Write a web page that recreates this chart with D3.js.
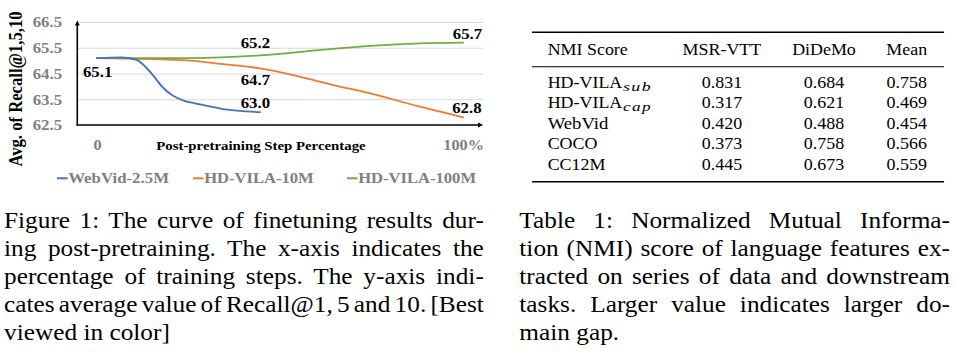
<!DOCTYPE html>
<html><head><meta charset="utf-8">
<script src="https://cdn.jsdelivr.net/npm/d3@7"></script>
<style>body{margin:0;background:#fff}svg{display:block}</style>
</head><body>
<svg id="c" width="954" height="355"></svg>
<script>
// ---------- data ----------
const seriesNames = ["WebVid-2.5M", "HD-VILA-10M", "HD-VILA-100M"];
const webvidX = [0, 6.8, 10.8, 14.9, 17.7, 20.4, 24.0, 26.8, 34.4, 44.5];
const webvidY = [65.1, 65.13, 65.03, 64.5, 64.0, 63.67, 63.43, 63.34, 63.12, 63.0];
const hd10X = [0, 10.7, 25.4, 34.4, 44.5, 52.7, 63.7, 74.6, 88.3, 100];
const hd10Y = [65.1, 65.07, 65.0, 64.86, 64.7, 64.47, 64.08, 63.73, 63.21, 62.8];
const hd100X = [0, 12, 25.4, 44.5, 63.7, 74.6, 88.3, 100];
const hd100Y = [65.1, 65.1, 65.1, 65.2, 65.45, 65.57, 65.67, 65.7];
const yTicks = [62.5, 63.5, 64.5, 65.5, 66.5];
const xTicks = [0, 100];
const xTickLabels = ["0", "100%"];
const labelX = [0, 44.5, 44.5, 44.5, 100, 100];
const labelValues = [65.1, 65.2, 64.7, 63.0, 65.7, 62.8];

const tableHeader = ["NMI Score", "MSR-VTT", "DiDeMo", "Mean"];
const rowNames = ["HD-VILA", "HD-VILA", "WebVid", "COCO", "CC12M"];
const rowSubs = ["sub", "cap", "", "", ""];
const msrvtt = [0.831, 0.317, 0.420, 0.373, 0.445];
const didemo = [0.684, 0.621, 0.488, 0.758, 0.673];
const meanVals = [0.758, 0.469, 0.454, 0.566, 0.559];

const figCaption = [
  "Figure 1: The curve of finetuning results dur-",
  "ing post-pretraining. The x-axis indicates the",
  "percentage of training steps. The y-axis indi-",
  "cates average value of Recall@1, 5 and 10. [Best",
  "viewed in color]"];
const tabCaption = [
  "Table 1: Normalized Mutual Informa-",
  "tion (NMI) score of language features ex-",
  "tracted on series of data and downstream",
  "tasks. Larger value indicates larger do-",
  "main gap."];

// ---------- style ----------
const colors = ["#4472C4", "#ED7D31", "#70AD47"];
const K = 1.12;          // horizontal stretch of the reference image
const serif = "'Liberation Serif','Times New Roman',Times,serif";
const gray = "#808080";
const labelOffsets = [[0.6, 19], [-4, -7.5], [-4, 16.7], [-4, -4], [4, -3.6], [3.5, -4.3]];
const legendX = [50.9, 172.3, 309.8];

// Times advance widths (per 1000 em), used to pin text lengths
const TR = {" ":250,"!":333,"(":333,")":333,",":250,"-":333,".":250,":":278,"@":921,"[":333,"]":333,"%":833,
 A:722,B:667,C:667,D:722,E:611,F:556,G:722,H:722,I:333,J:389,K:722,L:611,M:889,N:722,O:722,P:556,Q:722,R:667,S:556,T:611,U:722,V:722,W:944,X:722,Y:722,Z:611,
 a:444,b:500,c:444,d:500,e:444,f:333,g:500,h:500,i:278,j:278,k:500,l:278,m:778,n:500,o:500,p:500,q:500,r:333,s:389,t:278,u:500,v:500,w:722,x:500,y:500,z:444};
const TB = {" ":250,"%":1000,"-":333,".":250,",":250,"@":930,
 A:722,B:667,C:722,D:722,E:667,F:611,G:778,H:778,I:389,L:667,M:944,P:611,R:722,S:556,T:667,V:722,W:1000,
 a:500,b:556,c:444,d:556,e:444,f:333,g:500,h:556,i:278,l:278,m:833,n:556,o:500,p:556,r:444,s:389,t:333,u:556,v:500};
function tw(str, size, bold) {
  const t = bold ? TB : TR; let w = 0;
  for (const ch of str) w += (t[ch] !== undefined ? t[ch] : 500);
  return w * size / 1000;
}
function fit(sel, size, bold) {
  sel.attr("font-size", size).attr("font-weight", bold ? "bold" : null)
    .style("font-family", serif)
    .each(function () {
      d3.select(this).attr("textLength", tw(this.textContent, size, bold)).attr("lengthAdjust", "spacingAndGlyphs");
    });
}

const svg = d3.select("#c");
svg.append("rect").attr("width", 954).attr("height", 355).attr("fill", "#fff");
const root = svg.append("g").attr("transform", `scale(${K},1)`).style("font-family", serif);

// ---------- chart ----------
const axX = 69, plotRight = 431.3;
const x = d3.scaleLinear().domain([0, 100]).range([86.6, 413.4]);
const y = d3.scaleLinear().domain([62.5, 66.5]).range([125, 22]);
const chart = root.append("g");

// gridlines
chart.append("g")
  .attr("transform", `translate(${axX},0)`)
  .call(d3.axisRight(y).tickValues(yTicks.slice(1)).tickSize(plotRight - axX).tickFormat(""))
  .call(g => g.select(".domain").remove())
  .call(g => g.selectAll("line").attr("stroke", "#d9d9d9").attr("stroke-width", 1));

// y tick labels
chart.append("g")
  .attr("transform", `translate(${axX},0)`)
  .call(d3.axisLeft(y).tickValues(yTicks).tickSize(0).tickPadding(13.6).tickFormat(d3.format(".1f")))
  .call(g => g.select(".domain").remove())
  .call(g => g.attr("font-family", null).attr("font-size", null))
  .call(g => fit(g.selectAll("text").attr("fill", gray), 15, true));

// x tick labels
chart.append("g")
  .attr("transform", `translate(0,125)`)
  .call(d3.axisBottom(x).tickValues(xTicks).tickSize(0).tickPadding(14.7)
      .tickFormat((d, i) => xTickLabels[i]))
  .call(g => g.select(".domain").remove())
  .call(g => g.attr("font-family", null).attr("font-size", null))
  .call(g => fit(g.selectAll("text").attr("fill", gray), 14.5, true));

// axes with arrows
chart.append("line").attr("x1", axX).attr("x2", axX).attr("y1", 125.5).attr("y2", 24)
  .attr("stroke", "#000").attr("stroke-width", 1.4);
chart.append("line").attr("x1", axX - 0.7).attr("x2", plotRight - 3).attr("y1", 125).attr("y2", 125)
  .attr("stroke", "#000").attr("stroke-width", 1.6);
chart.append("path").attr("d", `M${axX - 2.2},25.5 L${axX},20.5 L${axX + 2.2},25.5 Z`).attr("fill", "#000");
chart.append("path").attr("d", `M${plotRight - 4.5},122.5 L${plotRight},125 L${plotRight - 4.5},127.5 Z`).attr("fill", "#000");

// lines
const seriesX = [webvidX, hd10X, hd100X];
const seriesY = [webvidY, hd10Y, hd100Y];
const line = d3.line().x(d => x(d[0])).y(d => y(d[1])).curve(d3.curveMonotoneX);
[1, 2, 0].forEach(s => {
  chart.append("path")
    .datum(seriesX[s].map((v, i) => [v, seriesY[s][i]]))
    .attr("d", line).attr("fill", "none").attr("stroke", colors[s])
    .attr("stroke-width", 1.8).attr("stroke-linecap", "round");
});

// data labels
chart.selectAll("text.dl").data(labelValues).join("text").attr("class", "dl")
  .attr("x", (d, i) => x(labelX[i]) + labelOffsets[i][0])
  .attr("y", (d, i) => y(d) + labelOffsets[i][1])
  .attr("text-anchor", "middle").attr("fill", "#000")
  .text(d => d.toFixed(1))
  .call(s => fit(s, 15, true));

// axis titles
chart.append("text").attr("transform", "translate(20,89) rotate(-90)")
  .attr("text-anchor", "middle").text("Avg. of Recall@1,5,10")
  .call(s => fit(s, 16.5, true));
chart.append("text").attr("x", 233).attr("y", 150).attr("text-anchor", "middle")
  .text("Post-pretraining Step Percentage").call(s => fit(s, 13.2, true));

// legend
const leg = chart.selectAll("g.leg").data(seriesNames).join("g").attr("class", "leg")
  .attr("transform", (d, i) => `translate(${legendX[i]},0)`);
leg.append("line").attr("x1", 0).attr("x2", 9.5).attr("y1", 178.3).attr("y2", 178.3)
  .attr("stroke", (d, i) => colors[i]).attr("stroke-width", 2);
leg.append("text").attr("x", 10).attr("y", 183).attr("fill", gray).text(d => d)
  .call(s => fit(s, 14.8, true));

// ---------- table ----------
const tbl = root.append("g").attr("fill", "#000");
const tL = 475, tR = 842.9;
tbl.append("line").attr("x1", tL).attr("x2", tR).attr("y1", 32.3).attr("y2", 32.3).attr("stroke", "#000").attr("stroke-width", 1.6);
tbl.append("line").attr("x1", tL).attr("x2", tR).attr("y1", 66.7).attr("y2", 66.7).attr("stroke", "#000").attr("stroke-width", 0.9);
tbl.append("line").attr("x1", tL).attr("x2", tR).attr("y1", 181.7).attr("y2", 181.7).attr("stroke", "#000").attr("stroke-width", 1.6);
const colX = [489, 644.6, 735.7, 809.6];
const colAnchor = ["start", "middle", "middle", "middle"];
tbl.selectAll("text.h").data(tableHeader).join("text").attr("class", "h")
  .attr("x", (d, i) => colX[i]).attr("y", 55).attr("text-anchor", (d, i) => colAnchor[i]).text(d => d)
  .call(s => fit(s, 16, false));
const rowY = [88.3, 108.5, 129, 149.5, 170];
rowNames.forEach((name, r) => {
  tbl.append("text").attr("x", colX[0]).attr("y", rowY[r]).text(name).call(s => fit(s, 16, false));
  if (rowSubs[r]) {
    tbl.append("text").attr("x", colX[0] + tw(name, 16, false) + 0.6).attr("y", rowY[r] + 3)
      .attr("font-style", "italic").attr("font-size", 12.5).style("font-family", serif)
      .attr("letter-spacing", 1).attr("textLength", 25.9).attr("lengthAdjust", "spacingAndGlyphs")
      .text(rowSubs[r]);
  }
  [msrvtt, didemo, meanVals].forEach((col, c) => {
    tbl.append("text").attr("x", colX[c + 1]).attr("y", rowY[r]).attr("text-anchor", "middle")
      .text(col[r].toFixed(3)).call(s => fit(s, 16, false));
  });
});

// ---------- captions ----------
function caption(lines, x0, x1) {
  const size = 22.6;
  const g = root.append("g").attr("fill", "#000");
  lines.forEach((s, i) => {
    const t = g.append("text").attr("x", x0).attr("y", 228.3 + i * 27.9).text(s)
      .attr("font-size", size).style("font-family", serif);
    if (i < lines.length - 1) {
      const w = t.node().getComputedTextLength();
      const n = (s.match(/ /g) || []).length;
      if (n > 0) t.attr("word-spacing", (x1 - x0 - w) / n);
    }
  });
}
caption(figCaption, 3.6, 432);
caption(tabCaption, 463.7, 848.2);
</script>
</body></html>
